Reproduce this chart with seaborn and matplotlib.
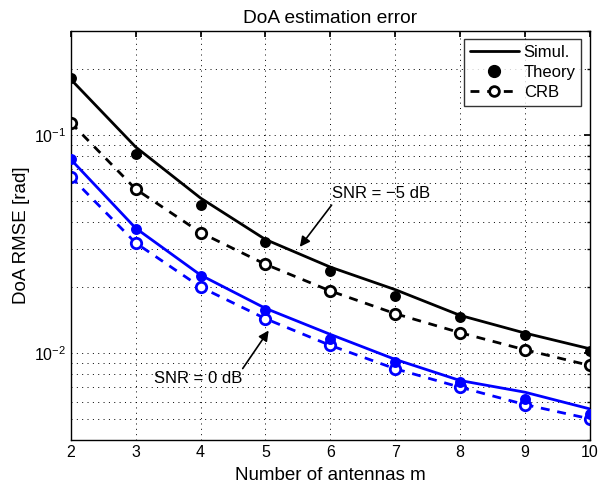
import numpy as np
import pandas as pd
import matplotlib
matplotlib.use("Agg")
import matplotlib.pyplot as plt
from matplotlib.lines import Line2D
from matplotlib.ticker import LogLocator, NullFormatter
import seaborn as sns

# ---------------- Data ----------------
antennas = [2, 3, 4, 5, 6, 7, 8, 9, 10]

# SNR = -5 dB
simul_m5 = [0.180, 0.0881, 0.0514, 0.0332, 0.0248, 0.01955, 0.0149, 0.01236, 0.01047]
theory_m5 = [0.1827, 0.0815, 0.0477, 0.0324, 0.0238, 0.01822, 0.01463, 0.01206, 0.01021]
crb_m5 = [0.1139, 0.0565, 0.0357, 0.02555, 0.01928, 0.01517, 0.01241, 0.01036, 0.00878]

# SNR = 0 dB
simul_0 = [0.0773, 0.0374, 0.0228, 0.01605, 0.01219, 0.00936, 0.00749, 0.00662, 0.00555]
theory_0 = [0.0773, 0.0369, 0.02258, 0.01571, 0.01164, 0.00909, 0.00741, 0.00617, 0.00527]
crb_0 = [0.0643, 0.0320, 0.02009, 0.01439, 0.01085, 0.00848, 0.00698, 0.00581, 0.00500]

legend_labels = ["Simul.", "Theory", "CRB"]

# ---------------- Style ----------------
sns.set_theme(style="white")
plt.rcParams["font.family"] = ["Liberation Sans", "DejaVu Sans"]
plt.rcParams["mathtext.fontset"] = "custom"
plt.rcParams["mathtext.rm"] = "Liberation Sans"
plt.rcParams["text.color"] = "black"
plt.rcParams["axes.labelcolor"] = "black"

fig = plt.figure(figsize=(6.0, 4.91), dpi=100)
ax = fig.add_axes([0.118, 0.104, 0.865, 0.833])

blue = "#0000ff"
dash = (0, (3.2, 2.8))
curves = [
    (simul_m5, theory_m5, crb_m5, "black"),
    (simul_0, theory_0, crb_0, blue),
]

for simul, theory, crb, col in curves:
    sns.lineplot(x=antennas, y=simul, color=col, linewidth=2, ax=ax)
    sns.lineplot(x=antennas, y=crb, color=col, linewidth=2, linestyle=dash,
                 marker="o", markersize=7.5, markerfacecolor="white",
                 markeredgecolor=col, markeredgewidth=2, ax=ax)
    sns.scatterplot(x=antennas, y=theory, color=col, s=62, edgecolor=col,
                    linewidth=0, ax=ax, zorder=4)

ax.set_yscale("log")
ax.set_xlim(2, 10)
ax.set_ylim(4e-3, 0.3)
ax.set_xticks(antennas)

ax.yaxis.set_major_locator(LogLocator(base=10, subs=[1.0]))
ax.yaxis.set_minor_locator(LogLocator(base=10, subs=np.arange(2, 10)))
ax.yaxis.set_minor_formatter(NullFormatter())

grid_kw = dict(color="black", linestyle=(0, (1, 4.5)), linewidth=0.7)
ax.grid(True, which="major", axis="both", **grid_kw)
ax.grid(True, which="minor", axis="y", **grid_kw)

ax.tick_params(direction="in", which="both", top=True, right=True,
               labelsize=11.5, colors="black", length=4)
ax.tick_params(which="minor", length=2.5)
for sp in ax.spines.values():
    sp.set_color("black")
    sp.set_linewidth(1.0)

ax.set_title("DoA estimation error", fontsize=13.8, pad=6)
ax.set_xlabel("Number of antennas m", fontsize=13.5, labelpad=5)
ax.set_ylabel("DoA RMSE [rad]", fontsize=13.5, labelpad=3)

# ---------------- Annotations ----------------
arrow = dict(arrowstyle="-|>", color="black", lw=1.2, mutation_scale=15,
             shrinkA=0, shrinkB=0)
ax.annotate("", xy=(5.53, 0.0307), xytext=(6.02, 0.0477), arrowprops=arrow)
ax.text(6.03, 0.0542, "SNR = \u22125 dB", fontsize=12, ha="left", va="center")
ax.annotate("", xy=(5.05, 0.0127), xytext=(4.65, 0.0085), arrowprops=arrow)
ax.text(3.96, 0.00767, "SNR = 0 dB", fontsize=12, ha="center", va="center")

# ---------------- Legend ----------------
handles = [
    Line2D([], [], color="black", linewidth=2),
    Line2D([], [], color="black", linestyle="none", marker="o", markersize=8.5),
    Line2D([], [], color="black", linewidth=2, linestyle=dash, marker="o",
           markersize=7, markerfacecolor="white", markeredgewidth=2),
]
leg = ax.legend(handles, legend_labels, loc="upper right", fontsize=12,
                frameon=True, fancybox=False, edgecolor="black",
                handlelength=2.9, handletextpad=0.3, borderpad=0.35,
                labelspacing=0.3, borderaxespad=0.5)
leg.get_frame().set_linewidth(1.0)

fig.savefig("out.png", dpi=100)
